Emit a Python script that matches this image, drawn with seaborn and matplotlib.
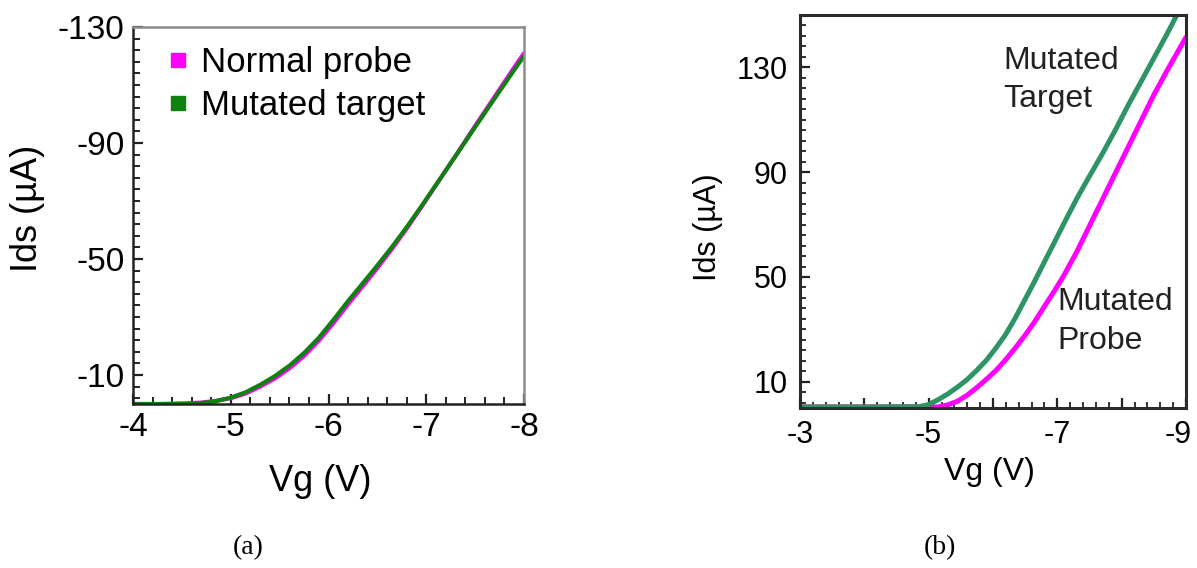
import numpy as np
import pandas as pd
import matplotlib
matplotlib.use("Agg")
import matplotlib.pyplot as plt
import matplotlib.transforms as mtransforms
from matplotlib.ticker import FixedLocator
from matplotlib.lines import Line2D
import seaborn as sns

# ---- panel (a): gate sweep, normal probe vs. mutated target (Ids negative) ----
vg_a = [-4.0, -4.3, -4.55, -4.7, -4.85, -5.0, -5.15, -5.3, -5.45, -5.6, -5.75,
        -5.9, -6.05, -6.2, -6.35, -6.5, -6.65, -6.8, -6.95, -7.1, -7.3, -7.5,
        -7.7, -7.9, -8.0]
ids_a_probe = [0.0, 0.0, -0.2, -0.5, -1.1, -2.0, -3.6, -6.0, -8.8, -12.3, -16.6,
               -21.8, -27.9, -34.4, -40.6, -46.9, -53.5, -60.5, -67.9, -75.5,
               -85.6, -95.9, -106.0, -116.1, -121.0]
ids_a_target = [0.0, 0.0, -0.1, -0.3, -1.0, -2.2, -4.0, -6.6, -9.6, -13.2, -17.6,
                -22.8, -29.0, -35.5, -41.6, -47.8, -54.2, -61.0, -68.2, -75.6,
                -85.5, -95.5, -105.4, -115.2, -120.0]
xticks_a = [-4, -5, -6, -7, -8]
yticks_a = [-130, -90, -50, -10]

# ---- panel (b): gate sweep, mutated probe vs. mutated target ----
vg_b_target = [-3.0, -4.0, -4.85, -5.0, -5.15, -5.3, -5.45, -5.6, -5.75, -5.9,
               -6.05, -6.2, -6.35, -6.5, -6.65, -6.8, -6.95, -7.1, -7.3, -7.5,
               -7.7, -7.9, -8.1, -8.3, -8.5, -8.7, -8.9]
ids_b_target = [0.4, 0.4, 0.5, 1.3, 3.2, 5.4, 8.0, 10.9, 14.4, 18.3,
                23.0, 28.2, 34.5, 41.5, 48.5, 55.8, 63.0, 70.3, 79.8, 88.5,
                97.0, 106.0, 115.5, 124.5, 133.5, 142.5, 152.0]
vg_b_probe = [-3.0, -4.5, -5.15, -5.3, -5.45, -5.6, -5.75, -5.9, -6.05, -6.2,
              -6.35, -6.5, -6.65, -6.8, -6.95, -7.1, -7.3, -7.5, -7.7, -7.9,
              -8.1, -8.3, -8.5, -8.7, -9.0]
ids_b_probe = [0.4, 0.4, 0.4, 1.2, 2.6, 4.9, 7.8, 11.0, 14.4, 18.5,
               23.0, 27.8, 33.0, 38.8, 44.5, 50.5, 59.5, 69.5, 79.5, 89.5,
               99.5, 109.5, 119.5, 128.5, 141.5]
xticks_b = [-3, -4, -5, -6, -7, -8, -9]
xlabels_b = ["-3", "", "-5", "", "-7", "", "-9"]
yticks_b = [10, 50, 90, 130]

PINK = "#FF00FF"
GREEN_A = "#0E820E"
GREEN_B = "#2E9466"

sns.set_style("white")
plt.rcParams["font.family"] = ["Liberation Sans", "DejaVu Sans"]
plt.rcParams["text.color"] = "black"
plt.rcParams["axes.labelcolor"] = "black"
plt.rcParams["xtick.color"] = "#222222"
plt.rcParams["ytick.color"] = "#222222"

fig = plt.figure(figsize=(11.97, 5.68), dpi=100)
ax_a = fig.add_axes([0.1111, 0.2887, 0.3267, 0.6638])
ax_b = fig.add_axes([0.6683, 0.2817, 0.3225, 0.6919])

# ---------- panel (a) ----------
df_a = pd.DataFrame({
    "Vg": vg_a + vg_a,
    "Ids": ids_a_probe + ids_a_target,
    "series": ["Normal probe"] * len(vg_a) + ["Mutated target"] * len(vg_a),
})
sns.lineplot(data=df_a, x="Vg", y="Ids", hue="series",
             hue_order=["Normal probe", "Mutated target"],
             palette={"Normal probe": PINK, "Mutated target": GREEN_A},
             linewidth=3.0, legend=False, ax=ax_a, sort=False)

ax_a.set_xlim(-4, -8)
ax_a.set_ylim(0, -130)
ax_a.xaxis.set_major_locator(FixedLocator(xticks_a))
ax_a.set_xticklabels([str(v) for v in xticks_a])
ax_a.xaxis.set_minor_locator(FixedLocator(np.arange(-4, -8.01, -0.2)))
ax_a.yaxis.set_major_locator(FixedLocator(yticks_a))
ax_a.set_yticklabels([str(v) for v in yticks_a])
ax_a.yaxis.set_minor_locator(FixedLocator(np.arange(-2, -131, -4)))
ax_a.tick_params(which="both", bottom=True, left=True, top=False, right=False)
ax_a.tick_params(which="major", direction="in", length=7, width=1.6,
                 labelsize=24, pad=6, labelcolor="black")
ax_a.tick_params(which="minor", direction="in", length=5, width=1.4)
for side in ("top", "right"):
    ax_a.spines[side].set_color("#8c8c8c")
    ax_a.spines[side].set_linewidth(1.8)
for side in ("left", "bottom"):
    ax_a.spines[side].set_color("#222222")
    ax_a.spines[side].set_linewidth(1.8)

ax_a.set_xlabel("Vg (V)", fontsize=26)
ax_a.set_ylabel("Ids (\u00b5A)", fontsize=26)
ax_a.xaxis.set_label_coords(0.478, -0.16)
ax_a.yaxis.set_label_coords(-0.225, 0.52)

handles = [
    Line2D([], [], linestyle="none", marker="s", markersize=10,
           markerfacecolor=PINK, markeredgecolor=PINK, label="Normal probe"),
    Line2D([], [], linestyle="none", marker="s", markersize=10,
           markerfacecolor=GREEN_A, markeredgecolor=GREEN_A, label="Mutated target"),
]
ax_a.legend(handles=handles, loc="upper left", bbox_to_anchor=(0.04, 1.0),
            frameon=False, fontsize=25, handlelength=0.6, handletextpad=0.35,
            labelspacing=0.3, borderaxespad=0.15)

# ---------- panel (b) ----------
df_b = pd.DataFrame({
    "Vg": vg_b_probe + vg_b_target,
    "Ids": ids_b_probe + ids_b_target,
    "series": ["Mutated Probe"] * len(vg_b_probe) + ["Mutated Target"] * len(vg_b_target),
})
sns.lineplot(data=df_b, x="Vg", y="Ids", hue="series",
             hue_order=["Mutated Probe", "Mutated Target"],
             palette={"Mutated Probe": PINK, "Mutated Target": GREEN_B},
             linewidth=3.6, legend=False, ax=ax_b, sort=False)

ax_b.set_xlim(-3, -9)
ax_b.set_ylim(0, 150)
ax_b.xaxis.set_major_locator(FixedLocator(xticks_b))
ax_b.set_xticklabels(xlabels_b)
ax_b.xaxis.set_minor_locator(FixedLocator(np.arange(-3, -9.01, -0.2)))
ax_b.yaxis.set_major_locator(FixedLocator(yticks_b))
ax_b.set_yticklabels([str(v) for v in yticks_b])
ax_b.yaxis.set_minor_locator(FixedLocator(np.arange(2, 151, 4)))
ax_b.tick_params(which="both", bottom=True, left=True, top=False, right=False)
ax_b.tick_params(which="major", direction="in", length=7, width=1.6,
                 labelsize=22, pad=9, labelcolor="black")
ax_b.tick_params(which="minor", direction="in", length=4.5, width=1.3)
for side in ("top", "right", "left", "bottom"):
    ax_b.spines[side].set_color("#2a2a2a")
    ax_b.spines[side].set_linewidth(2.2)

# keep the last x tick label inside the figure edge
last_label = ax_b.get_xticklabels()[-1]
last_label.set_transform(last_label.get_transform() +
                         mtransforms.ScaledTranslation(-8 / 100, 0, fig.dpi_scale_trans))

ax_b.set_xlabel("Vg (V)", fontsize=23)
ax_b.set_ylabel("Ids (\u00b5A)", fontsize=22)
ax_b.xaxis.set_label_coords(0.49, -0.125)
ax_b.yaxis.set_label_coords(-0.2, 0.46)

ax_b.text(-6.16, 138, "Mutated\nTarget", fontsize=23, color="#222222",
          ha="left", va="top", linespacing=1.35)
ax_b.text(-7.0, 46, "Mutated\nProbe", fontsize=23, color="#222222",
          ha="left", va="top", linespacing=1.35)

# panel captions
fig.text(248 / 1197, 1 - 548 / 568, "(a)", fontsize=20, family="Liberation Serif",
         ha="center", va="center")
fig.text(940 / 1197, 1 - 548 / 568, "(b)", fontsize=20, family="Liberation Serif",
         ha="center", va="center")

fig.savefig("out.png", dpi=100)
